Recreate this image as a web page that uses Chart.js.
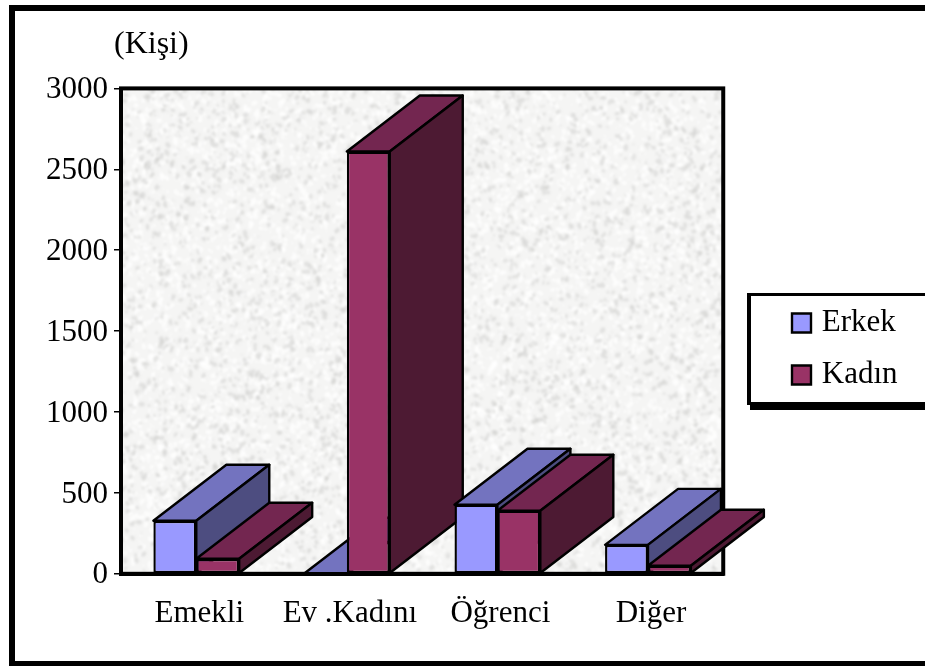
<!DOCTYPE html>
<html>
<head>
<meta charset="utf-8">
<title>Kişi</title>
<style>
  html, body { margin: 0; padding: 0; background: #fff; overflow: hidden; }
  #wrap { width: 925px; height: 666px; position: relative; }
</style>
<script src="https://cdn.jsdelivr.net/npm/chart.js@4/dist/chart.umd.js"></script>
</head>
<body>
<div id="wrap"><canvas id="chart"></canvas></div>
<script>
const categories = ['Emekli', 'Ev .Kadını', 'Öğrenci', 'Diğer'];
const erkek = [328, 0, 427, 179];
const kadin = [93, 2610, 390, 50];
const yTicks = [0, 500, 1000, 1500, 2000, 2500, 3000];

const FONT = '"Liberation Serif", "Times New Roman", serif';
const DEPTH_X = 73;
const DEPTH_Y = 56;

// paper-like plot background, built once and reused
let paper = null;
function makePaper(w, h) {
  const raw = document.createElement('canvas');
  raw.width = w;
  raw.height = h;
  const g = raw.getContext('2d');
  g.fillStyle = '#f5f5f4';
  g.fillRect(0, 0, w, h);
  let seed = 12345;
  const next = () => (seed = (seed * 1103515 + 12345) % 2147483648) / 2147483648;
  const count = Math.round(w * h / 22);
  for (let i = 0; i < count; i++) {
    const x = next() * w;
    const y = next() * h;
    const r = 0.8 + next() * 2.6;
    g.fillStyle = next() < 0.6 ? 'rgba(255,255,255,0.75)' : 'rgba(208,208,206,0.5)';
    g.beginPath();
    g.ellipse(x, y, r, r * 0.7, next() * 3.14, 0, Math.PI * 2);
    g.fill();
  }
  // soften once at the end, blurring every blob is far too slow
  const c = document.createElement('canvas');
  c.width = w;
  c.height = h;
  const out = c.getContext('2d');
  out.filter = 'blur(1.2px)';
  out.drawImage(raw, 0, 0);
  return c;
}

function poly(ctx, pts, fill) {
  ctx.beginPath();
  pts.forEach((p, i) => (i ? ctx.lineTo(p[0], p[1]) : ctx.moveTo(p[0], p[1])));
  ctx.closePath();
  ctx.fillStyle = fill;
  ctx.fill();
  ctx.stroke();
}

const box3d = {
  id: 'box3d',
  afterLayout(chart) {
    // legend and unit label sit away from where the layout boxes put them
    chart.legend.left = 775.75;
    chart.legend.right = chart.width;
    chart.legend.top = 286.5;
    chart.legend.bottom = chart.height;
    chart.titleBlock.left = 114;
    chart.titleBlock.right = 400;
  },
  beforeDraw(chart) {
    const { ctx } = chart;
    ctx.save();
    ctx.fillStyle = '#fff';
    ctx.fillRect(0, 0, chart.width, chart.height);
    // outer frame, right side runs off the picture
    ctx.fillStyle = '#000';
    ctx.fillRect(9, 5, chart.width - 9, 6);
    ctx.fillRect(9, 5, 6, chart.height - 5);
    ctx.fillRect(9, 661, chart.width - 9, 5);
    // legend frame
    ctx.fillRect(747, 293, chart.width - 747, 3);
    ctx.fillRect(747, 293, 4, 112);
    ctx.fillRect(747, 402, chart.width - 747, 3);
    ctx.fillRect(750, 405, chart.width - 750, 5);
    ctx.restore();
  },
  beforeDatasetsDraw(chart) {
    const { ctx, chartArea: a } = chart;
    if (!paper) paper = makePaper(Math.round(a.width), Math.round(a.height));
    ctx.save();
    ctx.drawImage(paper, a.left, a.top, a.width, a.height);
    ctx.strokeStyle = '#000';
    ctx.lineWidth = 4;
    ctx.strokeRect(a.left, a.top, a.width, a.height);

    // boxes go category by category so nearer ones cover the ones behind
    ctx.lineWidth = 2.4;
    ctx.lineJoin = 'round';
    categories.forEach((_, i) => {
      chart.data.datasets.forEach((ds, d) => {
        const bar = chart.getDatasetMeta(d).data[i];
        const left = bar.x - bar.width / 2;
        const right = bar.x + bar.width / 2;
        const top = bar.y;
        const base = bar.base;
        poly(ctx, [[left, top], [right, top], [right + DEPTH_X, top - DEPTH_Y], [left + DEPTH_X, top - DEPTH_Y]], ds.topColor);
        poly(ctx, [[right, top], [right + DEPTH_X, top - DEPTH_Y], [right + DEPTH_X, base - DEPTH_Y], [right, base]], ds.sideColor);
        bar.draw(ctx, a);
      });
    });
    ctx.restore();
    return false;
  },
};

new Chart(document.getElementById('chart'), {
  type: 'bar',
  data: {
    labels: categories,
    datasets: [
      { label: 'Erkek', data: erkek, backgroundColor: '#9999FF', topColor: '#7373BF', sideColor: '#4D4D80', borderColor: '#000', borderWidth: 2.4, borderSkipped: false },
      { label: 'Kadın', data: kadin, backgroundColor: '#993366', topColor: '#732650', sideColor: '#4D1A33', borderColor: '#000', borderWidth: 2.4, borderSkipped: false },
    ],
  },
  options: {
    responsive: true,
    maintainAspectRatio: false,
    animation: false,
    events: [],
    layout: { padding: { top: 20, left: 40, right: 70, bottom: 21 } },
    datasets: { bar: { categoryPercentage: 0.57, barPercentage: 1 } },
    plugins: {
      tooltip: { enabled: false },
      title: {
        display: true,
        text: '(Kişi)',
        align: 'start',
        color: '#000',
        font: { family: FONT, size: 32, weight: 'normal' },
        padding: { top: 5, bottom: 25 },
      },
      legend: {
        position: 'right',
        align: 'start',
        labels: {
          color: '#000',
          font: { family: FONT, size: 31 },
          usePointStyle: true,
          pointStyle: 'rect',
          boxWidth: 9.5,
          boxHeight: 19,
          padding: 21,
        },
      },
    },
    scales: {
      x: {
        grid: { display: false },
        border: { display: true, color: '#000', width: 4, z: 1 },
        ticks: { color: '#000', font: { family: FONT, size: 31 }, padding: 13, labelOffset: 3, maxRotation: 0, autoSkip: false },
      },
      y: {
        min: 0,
        max: 3000,
        afterBuildTicks: (scale) => { scale.ticks = yTicks.map((value) => ({ value })); },
        grid: { drawOnChartArea: false, color: '#000', lineWidth: 1.5, tickLength: 7 },
        border: { display: false },
        ticks: { color: '#000', font: { family: FONT, size: 31 }, padding: 6, labelOffset: 1.5, callback: (value) => String(value) },
      },
    },
  },
  plugins: [box3d],
});
</script>
</body>
</html>
